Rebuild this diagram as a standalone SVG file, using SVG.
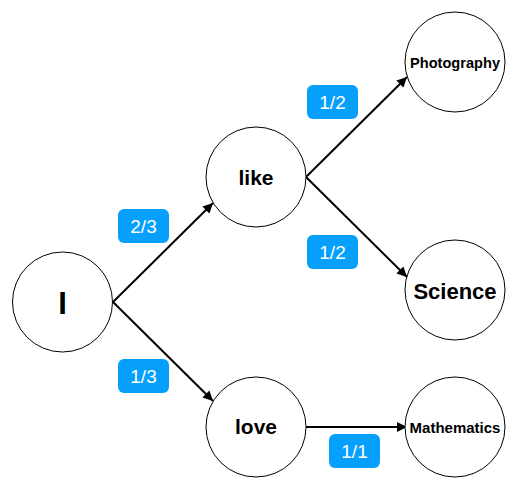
<svg xmlns="http://www.w3.org/2000/svg" width="519" height="489" viewBox="0 0 519 489">
<style>
.node{fill:#fff;stroke:#000;stroke-width:1}
.t{font-family:"Liberation Sans",Arial,sans-serif;font-weight:bold;fill:#000;text-anchor:middle}
.edge{stroke:#000;stroke-width:2;fill:none;marker-end:url(#ah)}
.lb{fill:#06a0fc}
.lt{font-family:"Liberation Sans",Arial,sans-serif;font-size:19px;fill:#fff;text-anchor:middle}
</style>
<defs>
<marker id="ah" viewBox="0 0 10 10" refX="10" refY="5" markerWidth="5.5" markerHeight="5" orient="auto" markerUnits="strokeWidth">
<path d="M0,0 L10,5 L0,10 z" fill="#000"/>
</marker>
</defs>
<rect width="519" height="489" fill="#fff"/>
<g id="connectors">
<line class="edge" x1="113" y1="302" x2="213" y2="203"/>
<line class="edge" x1="113" y1="302" x2="213" y2="401"/>
<line class="edge" x1="306" y1="177" x2="407" y2="77"/>
<line class="edge" x1="306" y1="177" x2="407" y2="277"/>
<line class="edge" x1="306" y1="427" x2="407" y2="427"/>
<g id="lbl-2-3"><rect class="lb" x="118" y="209" width="51" height="34" rx="6"/><text class="lt" x="143.5" y="233">2/3</text></g>
<g id="lbl-1-3"><rect class="lb" x="118" y="359" width="51" height="34" rx="6"/><text class="lt" x="143.5" y="383">1/3</text></g>
<g id="lbl-1-2a"><rect class="lb" x="307" y="85" width="51" height="34" rx="6"/><text class="lt" x="332.5" y="109">1/2</text></g>
<g id="lbl-1-2b"><rect class="lb" x="307" y="235" width="51" height="34" rx="6"/><text class="lt" x="332.5" y="259">1/2</text></g>
<g id="lbl-1-1"><rect class="lb" x="329" y="434" width="51" height="34" rx="6"/><text class="lt" x="354.5" y="458">1/1</text></g>
</g>
<g id="node-I"><circle class="node" cx="62.5" cy="302" r="50"/><text class="t" x="62.5" y="314" font-size="31">I</text></g>
<g id="node-like"><circle class="node" cx="256" cy="177" r="50"/><text class="t" x="256" y="185" font-size="21">like</text></g>
<g id="node-love"><circle class="node" cx="256" cy="427" r="50"/><text class="t" x="256" y="434" font-size="21">love</text></g>
<g id="node-photography"><circle class="node" cx="455" cy="62" r="50"/><text class="t" x="455" y="67.5" font-size="14.6">Photography</text></g>
<g id="node-science"><circle class="node" cx="455" cy="290" r="50"/><text class="t" x="455" y="299" font-size="22">Science</text></g>
<g id="node-mathematics"><circle class="node" cx="455" cy="427" r="50"/><text class="t" x="455" y="432.5" font-size="15">Mathematics</text></g>
</svg>
